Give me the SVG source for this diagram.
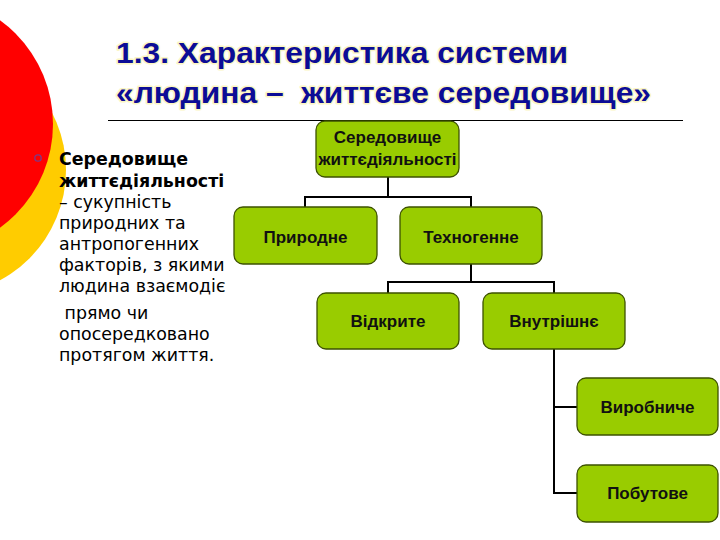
<svg xmlns="http://www.w3.org/2000/svg" width="720" height="540" viewBox="0 0 720 540">
<style>
.title{font-family:"Liberation Sans",Arial,sans-serif;font-weight:bold;font-size:30px;fill:#0c0c96;stroke:#fbf6c4;stroke-width:3;paint-order:stroke;stroke-linejoin:round}
.body{font-family:"DejaVu Sans",Verdana,sans-serif;font-size:17.4px;fill:#000}
.bodyb{font-family:"DejaVu Sans",Verdana,sans-serif;font-size:17.4px;font-weight:bold;fill:#000}
.node rect{fill:#99cc00;stroke:#3d5200;stroke-width:1.3}
.node text{font-family:"Liberation Sans",Arial,sans-serif;font-weight:bold;font-size:17px;fill:#111;text-anchor:middle}
.conn path{fill:none;stroke:#000;stroke-width:2}
</style>
<rect width="720" height="540" fill="#fff"/>
<circle cx="-59" cy="170" r="125" fill="#ffcc00"/>
<circle cx="-75" cy="124" r="128" fill="#ff0000"/>
<text class="title" x="116" y="63" textLength="452" lengthAdjust="spacingAndGlyphs">1.3. Характеристика системи</text>
<text class="title" x="116" y="103" textLength="535" lengthAdjust="spacingAndGlyphs" xml:space="preserve">«людина –  життєве середовище»</text>
<line x1="108" y1="120.5" x2="683" y2="120.5" stroke="#000" stroke-width="1.2"/>
<circle cx="38" cy="158" r="3.2" fill="none" stroke="#7a3a8a" stroke-width="1.3"/>
<text class="bodyb" x="59" y="165">Середовище</text>
<text class="bodyb" x="59" y="187">життєдіяльності</text>
<text class="body" x="59" y="208">– сукупність</text>
<text class="body" x="59" y="229">природних та</text>
<text class="body" x="59" y="250">антропогенних</text>
<text class="body" x="59" y="271">факторів, з якими</text>
<text class="body" x="59" y="292">людина взаємодіє</text>
<text class="body" x="59" y="319" xml:space="preserve"> прямо чи</text>
<text class="body" x="59" y="340">опосередковано</text>
<text class="body" x="59" y="361">протягом життя.</text>
<g class="conn">
<path d="M388,177 V197 M305,207 V197 H471 V207"/>
<path d="M471,264 V282 M388,293 V282 H554 V293"/>
<path d="M554,349 V493 H577 M554,407 H577"/>
</g>
<g id="n-root" class="node"><rect x="316" y="121" width="143" height="56" rx="9"/><text x="387.5" y="143">Середовище</text><text x="387.5" y="165">життєдіяльності</text></g>
<g id="n-pryrodne" class="node"><rect x="234" y="207" width="143" height="57" rx="9"/><text x="305.5" y="243">Природне</text></g>
<g id="n-tekhnohenne" class="node"><rect x="400" y="207" width="142" height="57" rx="9"/><text x="471" y="243">Техногенне</text></g>
<g id="n-vidkryte" class="node"><rect x="317" y="293" width="142" height="56" rx="9"/><text x="388" y="327">Відкрите</text></g>
<g id="n-vnutrishnie" class="node"><rect x="483" y="293" width="142" height="56" rx="9"/><text x="554" y="327">Внутрішнє</text></g>
<g id="n-vyrobnyche" class="node"><rect x="577" y="378" width="141" height="57" rx="9"/><text x="647.5" y="413">Виробниче</text></g>
<g id="n-pobutove" class="node"><rect x="577" y="465" width="141" height="57" rx="9"/><text x="647.5" y="499">Побутове</text></g>
</svg>
